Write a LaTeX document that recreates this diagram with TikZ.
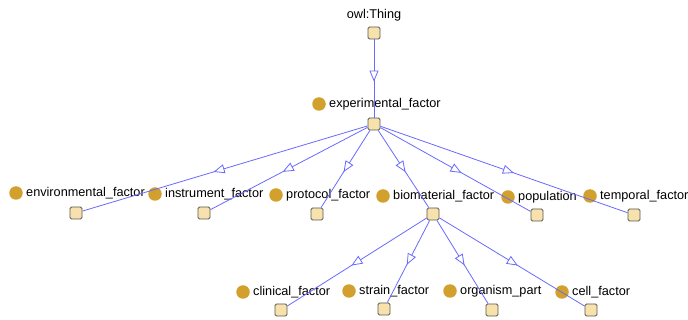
\documentclass[tikz,border=0pt]{standalone}
\usepackage{fontspec}
\setmainfont{Liberation Sans}
\usetikzlibrary{arrows.meta,decorations.markings}
\definecolor{boxfill}{HTML}{F7E1AC}
\definecolor{boxline}{HTML}{5A5A50}
\definecolor{dotcol}{HTML}{D2A02C}
\definecolor{edgecol}{HTML}{6A6AFF}
\tikzset{
  cls/.style={draw=boxline, fill=boxfill, minimum size=12pt, inner sep=0pt, rounded corners=1.5pt, line width=0.9pt},
  dot/.style={circle, fill=dotcol, minimum size=13.5pt, inner sep=0pt},
  lbl/.style={anchor=west, font=\fontsize{12.7}{13}\selectfont, inner sep=0pt},
  isa/.style={color=edgecol, line width=0.8pt, postaction={decorate},
    decoration={markings, mark=at position 0.54 with {\arrow{Triangle[fill=white, length=11pt, width=9pt, line width=0.8pt]}}}}
}
% #1 name, #2 box x, #3 box y, #4 dot x, #5 dot y, #6 text
\newcommand{\owlcls}[6]{%
  \node[cls] (b#1) at (#2,#3) {};
  \node[dot] (d#1) at (#4,#5) {};
  \node[lbl] (t#1) at (#4+10,#5) {#6};
}
\begin{document}
\begin{tikzpicture}[x=1pt,y=-1pt]
  \useasboundingbox (0,0) rectangle (688,320);
  \fill[white] (0,0) rectangle (688,320);
  % root
  \node[cls] (bthing) at (374,33) {};
  \node[font=\fontsize{12.7}{13}\selectfont, inner sep=0pt] (tthing) at (374,15) {owl:Thing};
  \owlcls{exp}{374}{124}{319}{104}{experimental\_factor}
  % level 2
  \owlcls{env}{76}{213}{16}{193}{environmental\_factor}
  \owlcls{ins}{204}{213}{155}{194}{instrument\_factor}
  \owlcls{pro}{317}{214}{276}{195}{protocol\_factor}
  \owlcls{bio}{433}{214}{383}{196}{biomaterial\_factor}
  \owlcls{pop}{537}{215}{508}{197}{population}
  \owlcls{tem}{634}{215}{590}{196}{temporal\_factor}
  % level 3
  \owlcls{cli}{281}{310}{243}{292}{clinical\_factor}
  \owlcls{str}{384}{309}{349}{291}{strain\_factor}
  \owlcls{org}{492}{310}{450}{291}{organism\_part}
  \owlcls{cel}{591}{310}{562}{292}{cell\_factor}
  % edges
  \draw[isa] (bthing) -- (bexp);
  \foreach \c in {env,ins,pro,bio,pop,tem} \draw[isa] (bexp) -- (b\c);
  \foreach \c in {cli,str,org,cel} \draw[isa] (bbio) -- (b\c);
\end{tikzpicture}
\end{document}
